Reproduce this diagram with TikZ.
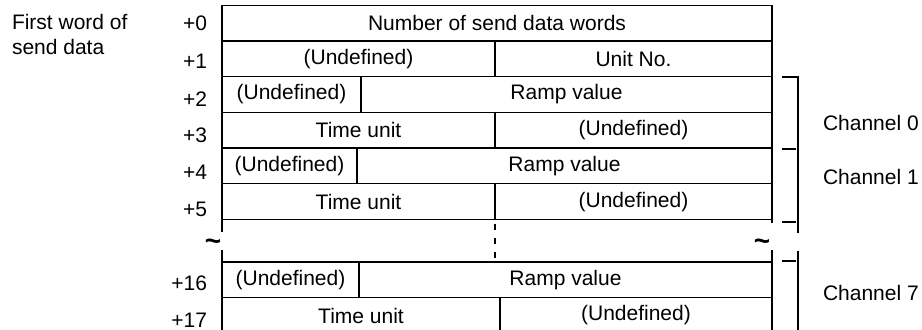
\documentclass[tikz,border=0pt]{standalone}
\usepackage{fontspec}
\setmainfont{Liberation Sans}
\usetikzlibrary{positioning}

\begin{document}
\begin{tikzpicture}[
  x=0.5pt, y=-0.5pt,
  every node/.style={font=\fontsize{10.5}{12.5}\selectfont, inner sep=0pt, outer sep=0pt},
  cell/.style={rectangle, draw, line width=0.65pt, anchor=north west, minimum height=17.85pt},
  idx/.style={anchor=east},
  chan/.style={anchor=west},
  edge/.style={line width=0.65pt},
  chbar/.style={line width=0.6pt},
  brk/.style={font=\fontsize{14}{16}\selectfont\bfseries}
]
\useasboundingbox (0,0) rectangle (922,329);

% caption (top left)
\node[anchor=north west, align=left] (first) at (12,14) {First word of\\send data};

% word offsets
\node[idx] (i0)  at (207,23)  {+0};
\node[idx] (i1)  at (207,61)  {+1};
\node[idx] (i2)  at (207,99)  {+2};
\node[idx] (i3)  at (207,135) {+3};
\node[idx] (i4)  at (207,172) {+4};
\node[idx] (i5)  at (207,209) {+5};
\node[idx] (i16) at (207,283) {+16};
\node[idx] (i17) at (207,320) {+17};

% words +0 .. +5
\node[cell, minimum width=275pt]   (w0) at (222,5.3)   {Number of send data words};
\node[cell, minimum width=136.5pt] (u1) at (222,41)    {(Undefined)};
\node[cell, minimum width=138.5pt] (n1) at (495,41)    {Unit No.};
\node[cell, minimum width=69.5pt]  (u2) at (222,76.7)  {(Undefined)};
\node[cell, minimum width=205.5pt] (r2) at (361,76.7)  {Ramp value};
\node[cell, minimum width=136.5pt] (t3) at (222,112.4) {Time unit};
\node[cell, minimum width=138.5pt] (u3) at (495,112.4) {(Undefined)};
\node[cell, minimum width=67.5pt]  (u4) at (222,148.1) {(Undefined)};
\node[cell, minimum width=207.5pt] (r4) at (357,148.1) {Ramp value};
\node[cell, minimum width=136.5pt] (t5) at (222,183.8) {Time unit};
\node[cell, minimum width=138.5pt] (u5) at (495,183.8) {(Undefined)};

% words +16, +17 (bottom cut by the page)
\node[cell, minimum width=68.5pt]  (u16) at (222,262)   {(Undefined)};
\node[cell, minimum width=206.5pt] (r16) at (359,262)   {Ramp value};
\node[cell, minimum width=139pt]   (t17) at (222,297.7) {Time unit};
\node[cell, minimum width=136pt]   (u17) at (500,297.7) {(Undefined)};

% break between +5 and +16
\draw[edge] (t5.south west) -- ++(0,12);
\draw[edge] (u16.north west) -- ++(0,-12);
\draw[edge] (u5.south east) -- ++(0,3);
\draw[edge] (r16.north east) -- ++(0,-12);
\draw[edge, dash pattern=on 3pt off 4pt, dash phase=5pt] (t5.south east) -- (t5.south east |- u16.north);
\node[brk] (brkL) at (213,245) {\textasciitilde};
\node[brk] (brkR) at (762,245) {\textasciitilde};

% channel brackets
\draw[chbar] (782,77) -| (798,233);
\draw[chbar] (782,149) -- (796,149);
\draw[chbar] (782,222) -- (796,222);
\draw[chbar] (798,251) -- (798,335);
\draw[chbar] (782,261) -- (796,261);

\node[chan] (ch0) at (823,123) {Channel 0};
\node[chan] (ch1) at (823,177) {Channel 1};
\node[chan] (ch7) at (823,293) {Channel 7};
\end{tikzpicture}
\end{document}
